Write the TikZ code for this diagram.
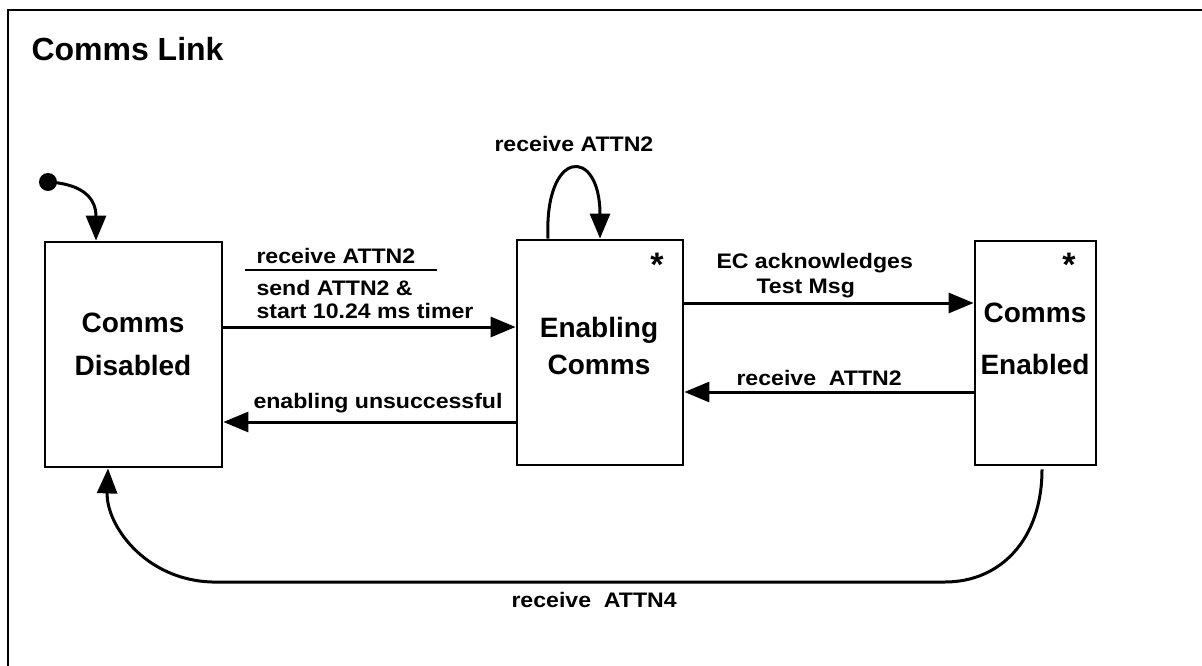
\documentclass[tikz,border=0pt]{standalone}
\usepackage{fontspec}
\setmainfont{Liberation Sans}
\newfontfamily\labfont[FakeStretch=1.1]{Liberation Sans}
\usetikzlibrary{arrows.meta}
\begin{document}
\begin{tikzpicture}[x=1pt,y=-1pt,line width=3pt,
  statebox/.style={draw,line width=2.8pt,inner sep=0pt},
  statetext/.style={anchor=base,inner sep=0pt,font=\bfseries\fontsize{28}{34}\selectfont},
  lab/.style={anchor=base west,inner sep=0pt,font=\labfont\bfseries\fontsize{21}{24}\selectfont},
  arr/.style={-{Triangle[length=25pt,width=20pt]},line width=3pt},
  star/.style={anchor=base,inner sep=0pt,font=\bfseries\fontsize{34}{34}\selectfont}]
\useasboundingbox (0,0) rectangle (1202,666);
% frame (only top and left edges visible)
\draw[line width=2.5pt] (8,666) -- (8,10) -- (1202,10);
\node[anchor=base west,inner sep=0pt,font=\bfseries\fontsize{32}{38}\selectfont] (title) at (30,61) {Comms Link};
% states
\node[statebox,minimum width=177pt,minimum height=225pt] (dis) at (133.5,354.5) {};
\node[statebox,minimum width=166pt,minimum height=225pt] (en) at (600,352.5) {};
\node[statebox,minimum width=121pt,minimum height=224pt] (ena) at (1035.5,353) {};
\node[statetext] (dis1) at (133,332) {Comms};
\node[statetext] (dis2) at (133,375) {Disabled};
\node[statetext] (en1) at (599,337) {Enabling};
\node[statetext] (en2) at (599,374) {Comms};
\node[statetext] (ena1) at (1035,322) {Comms};
\node[statetext] (ena2) at (1035,374) {Enabled};
\node[star] (s1) at (657,276) {*};
\node[star] (s2) at (1069,276) {*};
% initial
\node[fill,circle,inner sep=0pt,minimum size=18pt] (init) at (48,182) {};
\draw[arr] (init.center) .. controls (85,184) and (96,200) .. ([xshift=-37.5pt]dis.north);
% self loop
\draw[arr] ([xshift=-52pt]en.north) .. controls (544,148) and (600,146) .. (en.north);
\node[lab] (l0) at (493,152) {receive ATTN2};
% Disabled -> Enabling
\draw[arr] (dis.east |- 0,327) -- (en.west |- 0,327);
\node[lab] (l1a) at (255,263) {receive ATTN2};
\draw[line width=2.5pt] (245,270) -- (437,270);
\node[lab] (l1b) at (255,295) {send ATTN2 \&};
\node[lab] (l1c) at (255,318) {start 10.24 ms timer};
% Enabling -> Disabled
\draw[arr] (en.west |- 0,422) -- (dis.east |- 0,422);
\node[lab] (l2) at (252,408) {enabling unsuccessful};
% Enabling -> Enabled
\draw[arr] (en.east |- 0,303) -- (ena.west |- 0,303);
\node[lab] (l3a) at (715,268) {EC acknowledges};
\node[lab] (l3b) at (755,293) {Test Msg};
% Enabled -> Enabling
\draw[arr] (ena.west |- 0,392) -- (en.east |- 0,392);
\node[lab] (l4) at (735,385) {receive\ \ ATTN2};
% Enabled -> Disabled
\draw[arr] ([xshift=6.5pt,yshift=-3pt]ena.south) .. controls (1042,540) and (1000,582) .. (945,582) -- (212,582) .. controls (145,580) and (106,525) .. ([xshift=-25.5pt]dis.south);
\node[lab] (l5) at (510,607) {receive\ \ ATTN4};
\end{tikzpicture}
\end{document}
